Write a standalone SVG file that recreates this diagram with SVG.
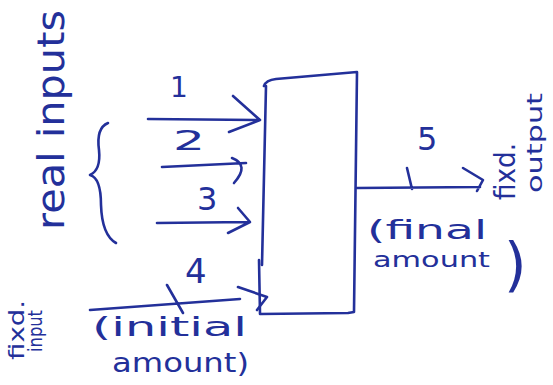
<svg xmlns="http://www.w3.org/2000/svg" width="553" height="385" viewBox="0 0 553 385">
<style>
.ln{fill:none;stroke:#23309a;stroke-width:2.6;stroke-linecap:round;stroke-linejoin:round}
.t{fill:#23309a;font-family:"DejaVu Sans",sans-serif}
</style>
<rect width="553" height="385" fill="#fff"/>
<g id="box">
<path class="ln" d="M264,86 Q266,80 276,79 L357,72 L354,312 L348,313 L260,314 L259,260 M266,86 L262,265"/>
</g>
<g id="connectors">
<path class="ln" d="M148,119 L258,120 M233,96 L260,120 L229,132"/>
<path class="ln" d="M162,167 L246,163 M232,158 Q250,165 234,183"/>
<path class="ln" d="M157,223 L248,222 M238,208 L250,222 L228,233"/>
<path class="ln" d="M90,310 L240,299 M238,287 L267,297 L257,310 M167,285 L183,313"/>
<path class="ln" d="M357,188 L480,187 M463,168 L483,180 L477,191 M407,168 L412,189"/>
<path class="ln" d="M108,123 Q96,128 99,150 Q101,170 90,175 Q101,178 101,205 Q102,235 116,243"/>
</g>
<g id="labels">
<text class="t" x="170" y="97" font-size="28">1</text>
<text class="t" x="173" y="150" font-size="26" textLength="32" lengthAdjust="spacingAndGlyphs">2</text>
<text class="t" x="197" y="210" font-size="32">3</text>
<text class="t" x="185" y="283" font-size="34">4</text>
<text class="t" x="417" y="150" font-size="32">5</text>
<text class="t" x="92" y="336" font-size="26" textLength="155" lengthAdjust="spacingAndGlyphs">(initial</text>
<text class="t" x="112" y="372" font-size="26" textLength="137" lengthAdjust="spacingAndGlyphs">amount)</text>
<text class="t" x="367" y="239" font-size="26" textLength="120" lengthAdjust="spacingAndGlyphs">(final</text>
<text class="t" x="373" y="267" font-size="22" textLength="117" lengthAdjust="spacingAndGlyphs">amount</text>
<text class="t" x="504" y="285" font-size="58">)</text>
<text class="t" transform="translate(64,230) rotate(-90)" font-size="38" textLength="220" lengthAdjust="spacingAndGlyphs">real inputs</text>
<text class="t" transform="translate(24,360) rotate(-90)" font-size="22" textLength="60" lengthAdjust="spacingAndGlyphs">fixd.</text>
<text class="t" transform="translate(42,352) rotate(-90)" font-size="20" textLength="42" lengthAdjust="spacingAndGlyphs">input</text>
<text class="t" transform="translate(515,200) rotate(-90)" font-size="28" textLength="57" lengthAdjust="spacingAndGlyphs">fixd.</text>
<text class="t" transform="translate(542,193) rotate(-90)" font-size="22" textLength="100" lengthAdjust="spacingAndGlyphs">output</text>
</g>
</svg>
